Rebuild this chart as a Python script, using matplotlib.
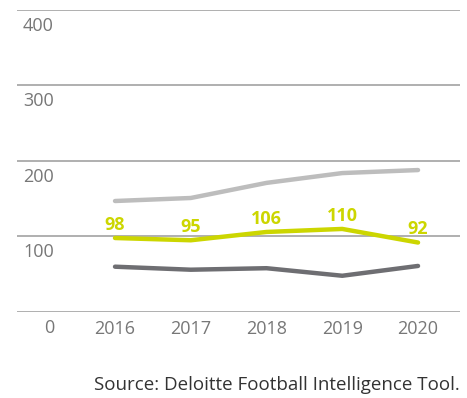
import matplotlib.pyplot as plt

years = [2016, 2017, 2018, 2019, 2020]
light_grey_values = [147, 151, 171, 184, 188]
yellow_values = [98, 95, 106, 110, 92]
dark_grey_values = [60, 56, 58, 48, 61]
y_ticks = [0, 100, 200, 300, 400]

plt.rcParams['font.family'] = ['Open Sans', 'DejaVu Sans']

fig = plt.figure(figsize=(4.67, 3.98), dpi=100)
ax = fig.add_axes([0.0364, 0.2161, 0.9486, 0.7588])

# 网格线
for t in y_ticks:
    ax.axhline(t, color='#9a9a9a', linewidth=1.1, zorder=1)

ax.plot(years, light_grey_values, color='#bdbdbd', linewidth=3.2, solid_capstyle='round', zorder=3)
ax.plot(years, dark_grey_values, color='#6e6e72', linewidth=3.2, solid_capstyle='round', zorder=3)
ax.plot(years, yellow_values, color='#ccd600', linewidth=3.2, solid_capstyle='round', zorder=4)

for x, v in zip(years, yellow_values):
    ax.annotate(str(v), (x, v), xytext=(0, 9.5), textcoords='offset points',
                ha='center', va='center', fontsize=13, fontweight='bold', color='#ccd600')

ax.set_xlim(2014.706, 2020.554)
ax.set_ylim(0, 400)
ax.set_xticks(years)
ax.set_xticklabels([str(y) for y in years], fontsize=13, color='#777777')
ax.tick_params(axis='x', length=0, pad=6)
ax.set_yticks([])
for s in ax.spines.values():
    s.set_visible(False)

# y轴标签写在网格线下方
for t in y_ticks[1:]:
    ax.text(0.0135, t - 21, str(t), transform=ax.get_yaxis_transform(),
            ha='left', va='center', fontsize=13, color='#777777')
ax.text(0.072, -21, '0', transform=ax.get_yaxis_transform(),
        ha='center', va='center', fontsize=13, color='#777777')

fig.text(0.985, 0.033, 'Source: Deloitte Football Intelligence Tool.',
         ha='right', va='center', fontsize=13.5, color='#333333')

fig.savefig('out.png', dpi=100)
